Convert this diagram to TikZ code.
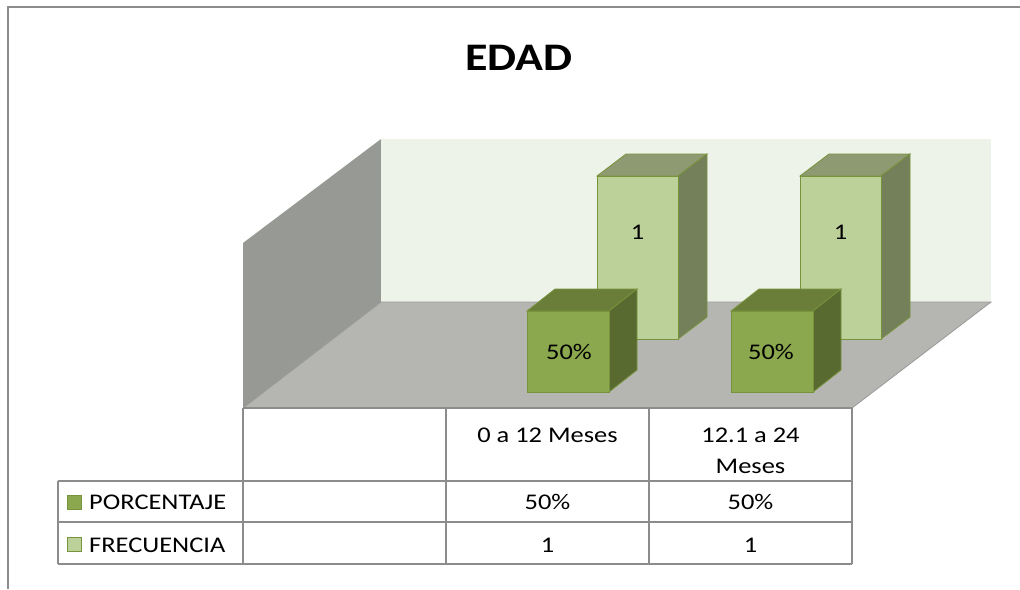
\documentclass[tikz,border=0pt]{standalone}
\usepackage{fontspec}
\setmainfont[FakeStretch=1.18]{Carlito}
\begin{document}
\begin{tikzpicture}[x=1pt,y=-1pt,
  lbl/.style={font=\fontsize{22.4}{24}\selectfont, inner sep=0pt, anchor=center},
  grid/.style={draw=black!45, line width=1.2pt}]
\useasboundingbox (0,0) rectangle (1020,589);
\definecolor{outline}{HTML}{77933C}
\definecolor{dfront}{HTML}{8BA84E}
\definecolor{dtop}{HTML}{6A7E3A}
\definecolor{dside}{HTML}{586A30}
\definecolor{lfront}{HTML}{BCD09A}
\definecolor{ltop}{HTML}{8E9B72}
\definecolor{lside}{HTML}{74805A}
\definecolor{lwall}{HTML}{979994}
\definecolor{bwall}{HTML}{EEF3EA}
\definecolor{floorc}{HTML}{B5B6B2}
% outer frame
\draw[black!45, line width=1.2pt] (8,589) -- (8,7) -- (1020,7);
% title
\node[font=\fontsize{39}{41}\selectfont\bfseries] (title) at (519,58) {EDAD};
% walls
\fill[lwall] (243,243) -- (381,139) -- (381,302) -- (243,408) -- cycle;
\fill[bwall] (381,139) rectangle (991,302);
\fill[floorc] (381,302) -- (991,302) -- (852,408) -- (243,408) -- cycle;
\draw[black!40, line width=0.8pt] (243,408) -- (381,302) -- (991,302) -- (852,408);
% light bars
\foreach \x in {597,800}{
  \fill[ltop, draw=outline, line width=0.8pt] (\x,176) -- (\x+29,154) -- (\x+110,154) -- (\x+81,176) -- cycle;
  \fill[lside, draw=outline, line width=0.8pt] (\x+81,176) -- (\x+110,154) -- (\x+110,317) -- (\x+81,339) -- cycle;
  \fill[lfront, draw=outline, line width=0.8pt] (\x,176) rectangle (\x+81,339);
}
\node[lbl] (fa) at (637.5,232) {1};
\node[lbl] (fb) at (840.5,232) {1};
% dark bars
\foreach \x in {527,731}{
  \fill[dtop, draw=outline, line width=0.8pt] (\x,311) -- (\x+28,289) -- (\x+110,289) -- (\x+82,311) -- cycle;
  \fill[dside, draw=outline, line width=0.8pt] (\x+82,311) -- (\x+110,289) -- (\x+110,370) -- (\x+82,392) -- cycle;
  \fill[dfront, draw=outline, line width=0.8pt] (\x,311) rectangle (\x+82,392);
}
\node[lbl] (pa) at (569,352) {50\%};
\node[lbl] (pb) at (771,352) {50\%};
% table
\draw[grid] (243,408) -- (852,408);
\draw[grid] (58,481) -- (852,481);
\draw[grid] (58,522) -- (852,522);
\draw[grid] (58,564) -- (852,564);
\draw[grid] (58,481) -- (58,564);
\draw[grid] (243,408) -- (243,564);
\draw[grid] (446,408) -- (446,564);
\draw[grid] (649,408) -- (649,564);
\draw[grid] (852,408) -- (852,564);
\node[lbl] (h1) at (547.5,435) {0 a 12 Meses};
\node[lbl] (h2a) at (750.5,435) {12.1 a 24};
\node[lbl] (h2b) at (750.5,466) {Meses};
\node[lbl] (c11) at (547.5,502) {50\%};
\node[lbl] (c12) at (750.5,502) {50\%};
\node[lbl] (c21) at (547.5,545) {1};
\node[lbl] (c22) at (750.5,545) {1};
% legend
\filldraw[fill=dfront, draw=outline, line width=0.8pt] (67,495) rectangle (81,509);
\filldraw[fill=lfront, draw=outline, line width=0.8pt] (67,537) rectangle (81,551);
\node[lbl, anchor=west] (lp) at (89,502) {PORCENTAJE};
\node[lbl, anchor=west] (lf) at (89,545) {FRECUENCIA};
\end{tikzpicture}
\end{document}
